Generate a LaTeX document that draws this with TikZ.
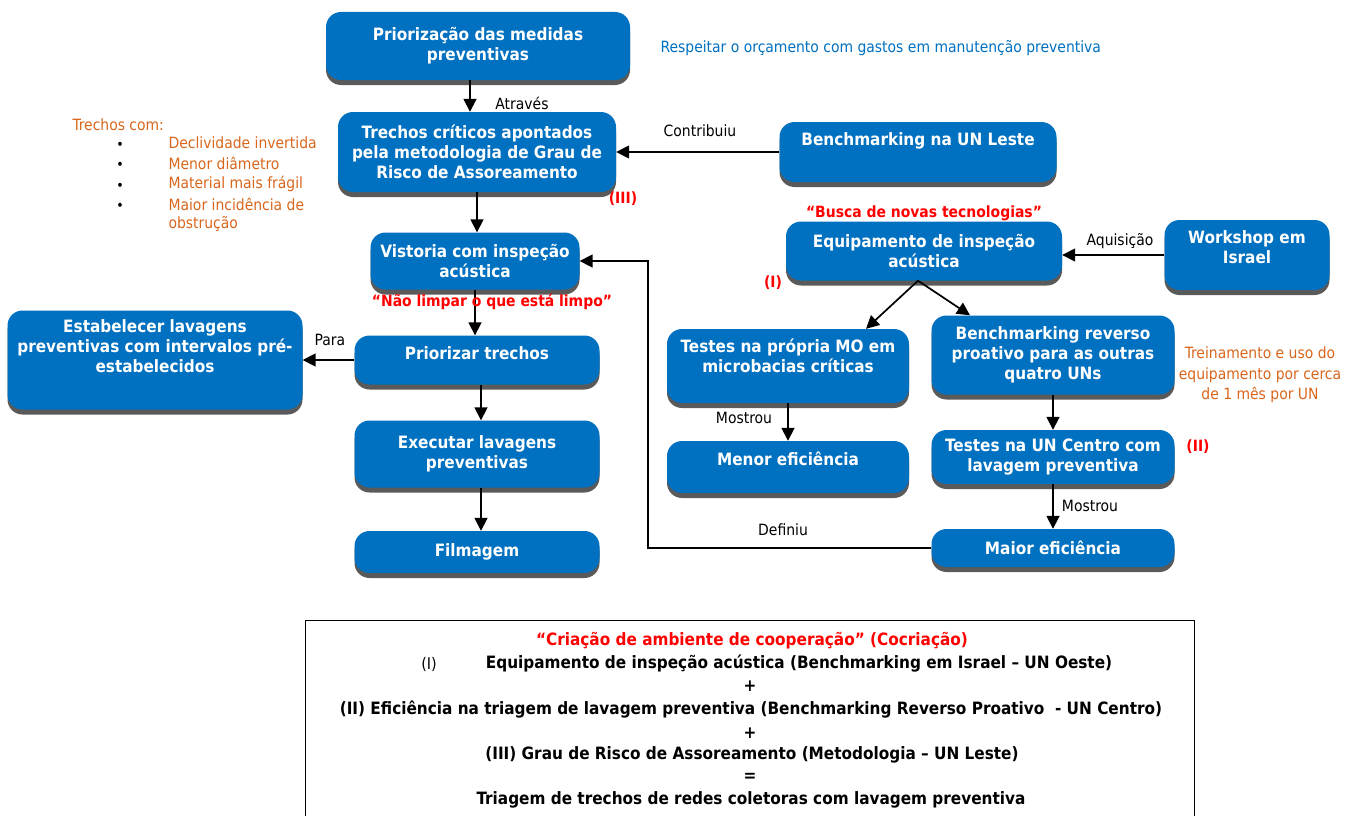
\documentclass[tikz,border=0pt]{standalone}
\usepackage{fontspec}
\setmainfont{DejaVu Sans Condensed}
\usetikzlibrary{arrows.meta,shadows}

\definecolor{azul}{HTML}{0070C0}
\definecolor{laranja}{HTML}{D8661C}
\definecolor{sombra}{HTML}{5A5A5A}
\definecolor{vermelho}{HTML}{FF0000}

\begin{document}
\begin{tikzpicture}[x=1pt,y=-1pt,
  caixa/.style={fill=azul, rounded corners=15pt, text=white, align=center,
    font=\fontsize{17}{20}\selectfont\bfseries, inner sep=3pt,
    drop shadow={shadow xshift=0pt, shadow yshift=-5pt, fill=sombra, opacity=1}},
  seta/.style={-{Triangle[width=13pt,length=13pt]}, line width=1.7pt},
  rotulo/.style={font=\fontsize{15.5}{17}\selectfont},
  destaque/.style={text=vermelho, font=\fontsize{15.5}{17}\selectfont\bfseries},
  nota/.style={text=laranja, font=\fontsize{15.5}{20.5}\selectfont, align=center},
  sintese/.style={font=\fontsize{17}{19}\selectfont\bfseries}]
\useasboundingbox (0,0) rectangle (1349,816);

% caixas do fluxo
\node[caixa, minimum width=304pt, minimum height=68pt] (prior) at (478,46) {Priorização das medidas\\preventivas};
\node[caixa, minimum width=278pt, minimum height=80pt] (trechos) at (477,152) {Trechos críticos apontados\\pela metodologia de Grau de\\Risco de Assoreamento};
\node[caixa, minimum width=277pt, minimum height=60pt, text depth=26pt] (leste) at (918,152) {Benchmarking na UN Leste};
\node[caixa, minimum width=209pt, minimum height=57pt] (vist) at (475,261) {Vistoria com inspeção\\acústica};
\node[caixa, minimum width=276pt, minimum height=59pt] (equip) at (924,251) {Equipamento de inspeção\\acústica};
\node[caixa, minimum width=165pt, minimum height=70pt, text depth=16pt] (work) at (1247,255) {Workshop em\\Israel};
\node[caixa, minimum width=295pt, minimum height=99pt, text depth=28pt] (estab) at (155,360) {Estabelecer lavagens\\preventivas com intervalos pré-\\estabelecidos};
\node[caixa, minimum width=245pt, minimum height=49pt, text depth=14pt] (prz) at (477,360) {Priorizar trechos};
\node[caixa, minimum width=242pt, minimum height=74pt, text depth=20pt] (tmo) at (788,366) {Testes na própria MO em\\microbacias críticas};
\node[caixa, minimum width=243pt, minimum height=79pt] (brev) at (1053,355) {Benchmarking reverso\\proativo para as outras\\quatro UNs};
\node[caixa, minimum width=245pt, minimum height=67pt] (exec) at (477,454) {Executar lavagens\\preventivas};
\node[caixa, minimum width=242pt, minimum height=52pt, text depth=16pt] (menor) at (788,467) {Menor eficiência};
\node[caixa, minimum width=243pt, minimum height=54pt] (tcen) at (1053,457) {Testes na UN Centro com\\lavagem preventiva};
\node[caixa, minimum width=245pt, minimum height=42pt] (film) at (477,552) {Filmagem};
\node[caixa, minimum width=243pt, minimum height=38pt] (maior) at (1053,548) {Maior eficiência};

% conectores
\draw[seta] ([xshift=-8pt]prior.south) -- ([xshift=-7pt]trechos.north);
\draw[seta] (leste.west) -- (trechos.east);
\draw[seta] (trechos.south) -- (trechos.south |- vist.north);
\draw[seta] (vist.south) -- (vist.south |- prz.north);
\draw[seta] (prz.west) -- (estab.east);
\draw[seta] ([xshift=4pt]prz.south) -- ([xshift=4pt]exec.north);
\draw[seta] ([xshift=4pt]exec.south) -- ([xshift=4pt]film.north);
\draw[seta] (maior.west) -- ++(-283,0) |- (vist.east);
\draw[seta] (work.west) -- (work.west -| equip.east);
\draw[seta] ([xshift=-6pt]equip.south) -- ([xshift=78pt]tmo.north);
\draw[seta] ([xshift=-6pt]equip.south) -- ([xshift=-83pt]brev.north);
\draw[seta] (tmo.south) -- (menor.north);
\draw[seta] (brev.south) -- (tcen.north);
\draw[seta] (tcen.south) -- (maior.north);

% rotulos dos conectores
\node[rotulo] (atraves) at (522,103) {Através};
\node[rotulo] (contrib) at (700,131) {Contribuiu};
\node[rotulo] (para) at (330,340) {Para};
\node[rotulo] (definiu) at (783,530) {Definiu};
\node[rotulo] (aquis) at (1120,241) {Aquisição};
\node[rotulo] (mostrou1) at (744,418) {Mostrou};
\node[rotulo] (mostrou2) at (1090,506) {Mostrou};

% destaques em vermelho
\node[destaque] (iii) at (623,199) {(III)};
\node[destaque] (busca) at (924,213) {“Busca de novas tecnologias”};
\node[destaque] (i) at (773,283) {(I)};
\node[destaque] (ii) at (1198,447) {(II)};
\node[destaque] (limpo) at (492,302) {“Não limpar o que está limpo”};

% notas
\node[text=azul, font=\fontsize{15.5}{17}\selectfont, anchor=west] (orcam) at (657,48) {Respeitar o orçamento com gastos em manutenção preventiva};
\node[nota] (trein) at (1260,375) {Treinamento e uso do\\equipamento por cerca\\de 1 mês por UN};
\node[nota, anchor=west] (trcom) at (69,125) {Trechos com:};
\foreach \y/\txt in {143/Declividade invertida,163/Menor diâmetro,184/Material mais frágil,204/Maior incidência de}{
  \node[font=\fontsize{14}{16}\selectfont] (bul\y) at (120,\y+3) {\textbullet};
  \node[nota, anchor=west] (item\y) at (165,\y) {\txt};
}
\node[nota, anchor=west] (obstr) at (165,224) {obstrução};

% quadro de sintese
\draw[line width=1pt] (305,620) rectangle (1194,830);
\node[destaque, font=\fontsize{17}{19}\selectfont\bfseries] (coc) at (752,641) {“Criação de ambiente de cooperação” (Cocriação)};
\node[font=\fontsize{16}{18}\selectfont] (s1n) at (429,664) {(I)};
\node[sintese] (s1) at (799,664) {Equipamento de inspeção acústica (Benchmarking em Israel – UN Oeste)};
\node[sintese] (mais1) at (750,686) {+};
\node[sintese] (s2) at (751,710) {(II) Eficiência na triagem de lavagem preventiva (Benchmarking Reverso Proativo~ - UN Centro)};
\node[sintese] (mais2) at (750,733) {+};
\node[sintese] (s3) at (752,755) {(III) Grau de Risco de Assoreamento (Metodologia – UN Leste)};
\node[sintese] (igual) at (750,777) {=};
\node[sintese] (s4) at (751,800) {Triagem de trechos de redes coletoras com lavagem preventiva};
\end{tikzpicture}
\end{document}
